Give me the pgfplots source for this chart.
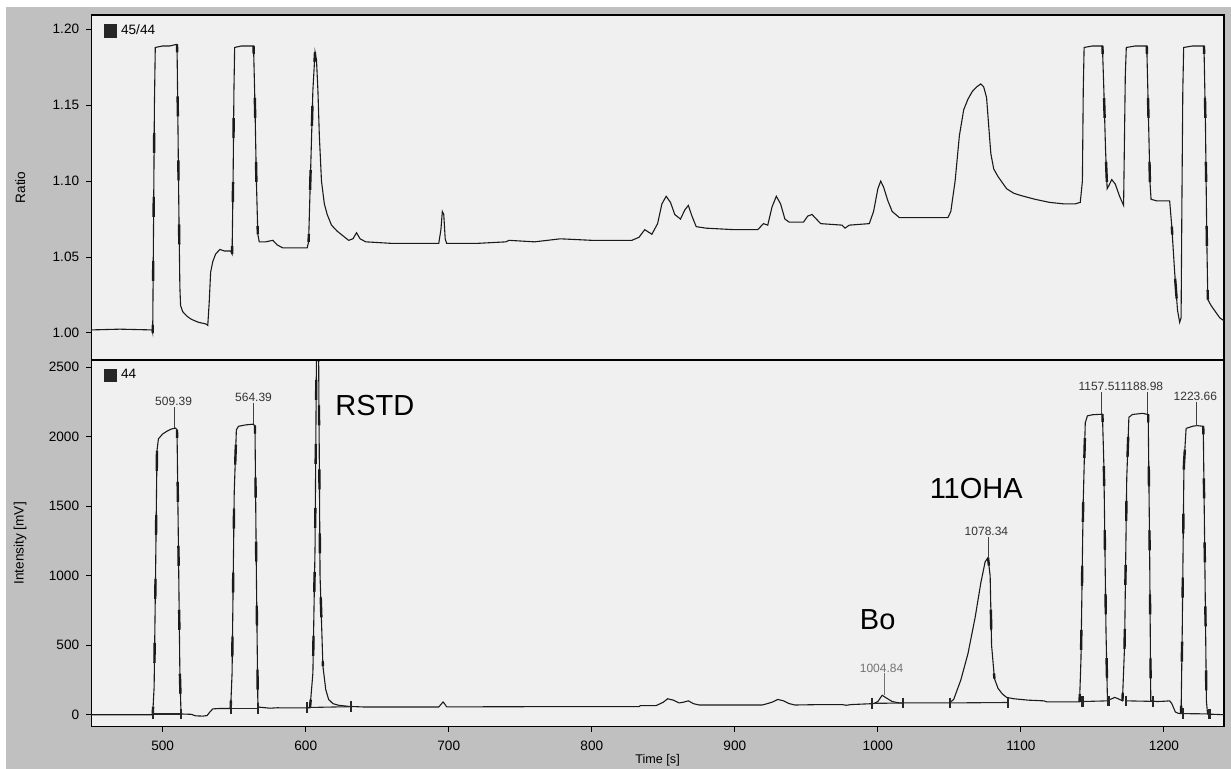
\documentclass[border=0pt]{standalone}
\usepackage{pgfplots}
\pgfplotsset{compat=1.18}
\usepackage{fontspec}
\setmainfont{Liberation Sans}
\definecolor{outergray}{HTML}{C0C0C0}
\definecolor{plotbg}{HTML}{F0F0F0}
\definecolor{trace}{HTML}{1A1A1A}

\tikzset{
  pk/.style={font=\fontsize{6}{7}\selectfont, text=black!80, inner sep=0pt},
  big/.style={anchor=west, inner sep=0pt, font=\fontsize{14.5}{16}\selectfont},
}
\pgfplotsset{
  chrom/.style={
    scale only axis, width=566.4pt, xmin=450, xmax=1242,
    axis background/.style={fill=plotbg},
    axis line style={black, line width=0.6pt},
    tick align=outside, ytick pos=left, xtick pos=bottom,
    major tick length=2.5pt, tick style={black, line width=0.5pt},
    /pgf/number format/assume math mode=true,
    ticklabel style={font=\fontsize{6.8}{8}\selectfont},
    every axis y label/.style={at={(rel axis cs:0,0.5)}, xshift=-35.5pt, rotate=90, anchor=center,
      font=\fontsize{6.8}{8}\selectfont},
    legend style={at={(rel axis cs:0,1)}, anchor=north west, xshift=6pt, yshift=-2.5pt,
      draw=none, fill=none, inner sep=0pt, font=\fontsize{6.8}{8}\selectfont},
    legend image code/.code={\fill[black!85] (0pt,-3.1pt) rectangle (6.2pt,3.1pt);},
  },
  trc/.style={trace, line width=0.55pt},
  edge/.style={trace, line width=1.2pt, dash pattern=on 10pt off 22pt, dash phase=6pt},
  bl/.style={black!85, line width=0.55pt, mark=|, mark size=2.6pt, mark options={line width=1.1pt}},
}

\begin{document}
\begin{tikzpicture}
\path[use as bounding box] (0,0) rectangle (615.5pt,384.5pt);
\fill[white] (0,0) rectangle (615.5pt,384.5pt);
\fill[outergray] (3pt,0) rectangle (615.5pt,381pt);

% top panel: ratio 45/44
\begin{axis}[chrom, name=top, at={(45.6pt,204.5pt)}, anchor=south west, height=172.5pt,
  ymin=0.9822, ymax=1.2094, ytick={1.00,1.05,1.10,1.15,1.20}, xtick=\empty,
  yticklabel style={/pgf/number format/.cd, fixed, fixed zerofill, precision=2},
  ylabel={Ratio}]
\addplot[trc] coordinates {
(450,1.002)(470,1.0025)(492.5,1.002)(493,1.0)(493.5,1.06)(494.2,1.15)(494.8,1.188)(500,1.189)(505,1.189)
(509.5,1.190)(510,1.19)(510.5,1.15)(511.3,1.08)(512,1.03)(512.5,1.018)(514,1.014)(517,1.011)(520,1.009)
(525,1.007)(530,1.006)(531.5,1.005)(532.5,1.02)(533.5,1.04)(535,1.047)(537,1.052)(540,1.055)(543,1.054)
(547.5,1.054)(548.5,1.052)(549.2,1.10)(549.8,1.16)(550.3,1.188)(555,1.189)(563.5,1.189)(564.5,1.15)
(565.5,1.10)(566.5,1.065)(567.5,1.06)(572,1.06)(577,1.061)(580,1.058)(584,1.056)(595,1.056)(601,1.056)
(602,1.06)(603.5,1.11)(605,1.16)(606.5,1.185)(607.5,1.18)(608.5,1.16)(609.5,1.13)(611,1.10)(613,1.085)
(615,1.078)(618,1.071)(622,1.067)(626,1.064)(630,1.061)(633,1.062)(635.5,1.066)(638,1.062)(642,1.060)
(660,1.059)(680,1.059)(693,1.059)(694.5,1.068)(695.5,1.080)(696.5,1.078)(697.5,1.062)(698.5,1.059)
(720,1.059)(740,1.060)(742,1.061)(760,1.060)(778,1.062)(800,1.061)(828,1.061)(833,1.063)(837,1.068)
(842,1.065)(846,1.072)(849,1.085)(852,1.090)(855,1.086)(858,1.078)(862,1.075)(865,1.081)(867.5,1.084)
(870,1.077)(873,1.070)(880,1.069)(900,1.068)(916,1.068)(920,1.072)(923,1.071)(926,1.083)(929,1.090)
(932,1.085)(935,1.075)(938,1.073)(948,1.073)(951,1.077)(954,1.078)(957,1.075)(960,1.072)(975,1.071)
(977,1.069)(980,1.071)(994,1.072)(997,1.080)(1000,1.095)(1002,1.100)(1004,1.096)(1007,1.087)(1010,1.080)
(1015,1.076)(1030,1.076)(1049,1.076)(1051,1.080)(1054,1.10)(1057,1.130)(1060,1.147)(1063,1.154)
(1066,1.159)(1069,1.162)(1072,1.164)(1074,1.162)(1076,1.155)(1078,1.130)(1079,1.118)(1081,1.108)
(1084,1.103)(1087,1.099)(1090,1.095)(1095,1.092)(1100,1.0905)(1110,1.088)(1120,1.086)(1130,1.085)
(1138,1.085)(1141.5,1.086)(1143,1.10)(1143.6,1.16)(1144.2,1.188)(1150,1.189)(1157,1.189)(1158,1.16)
(1159.2,1.12)(1160.3,1.095)(1161.5,1.097)(1163.5,1.101)(1166,1.098)(1169,1.090)(1171.8,1.084)
(1172.3,1.12)(1173,1.17)(1173.7,1.188)(1180,1.189)(1188,1.189)(1189,1.15)(1190.2,1.10)(1191,1.088)
(1195,1.087)(1204,1.087)(1205.5,1.07)(1207.5,1.04)(1209.5,1.015)(1211,1.007)(1212,1.01)(1212.6,1.09)
(1213.2,1.16)(1213.8,1.188)(1220,1.189)(1228,1.189)(1229,1.14)(1230,1.06)(1230.7,1.022)(1233,1.018)
(1236,1.014)(1239,1.010)(1242,1.008)};
\addlegendentry{45/44}
% heavier strokes along the steep edges
\addplot[edge, forget plot] coordinates {(493,1.0)(493.5,1.06)(494.2,1.15)};
\addplot[edge, forget plot] coordinates {(510,1.19)(510.5,1.15)(511.3,1.08)(512,1.03)};
\addplot[edge, forget plot] coordinates {(548.5,1.052)(549.2,1.10)(549.8,1.16)};
\addplot[edge, forget plot] coordinates {(563.5,1.189)(564.5,1.15)(565.5,1.10)(566.5,1.065)};
\addplot[edge, forget plot] coordinates {(602,1.06)(603.5,1.11)(605,1.16)(606.5,1.185)};
\addplot[edge, forget plot] coordinates {(1157,1.189)(1158,1.16)(1159.2,1.12)(1160.3,1.095)};
\addplot[edge, forget plot] coordinates {(1188,1.189)(1189,1.15)(1190.2,1.10)(1191,1.088)};
\addplot[edge, forget plot] coordinates {(1205.5,1.07)(1207.5,1.04)(1209.5,1.015)};
\addplot[edge, forget plot] coordinates {(1228,1.189)(1229,1.14)(1230,1.06)(1230.7,1.022)};
\draw[black, line width=1.2pt] (rel axis cs:0,1) -- (rel axis cs:1,1);
\end{axis}

% bottom panel: intensity 44
\begin{axis}[chrom, name=bot, at={(45.6pt,21.15pt)}, anchor=south west, height=183.35pt,
  ymin=-86, ymax=2552, ytick={0,500,1000,1500,2000,2500},
  yticklabel style={/pgf/number format/1000 sep={}},
  xtick={500,600,...,1200}, xticklabel style={/pgf/number format/1000 sep={}, yshift=-1pt},
  ylabel={Intensity [mV]}, xlabel={Time [s]},
  every axis x label/.style={at={(rel axis cs:0.5,0)}, yshift=-17pt, anchor=center,
    font=\fontsize{6.3}{8}\selectfont}]
\addplot[trc] coordinates {
(450,0)(490,0)(493,0)(494,200)(495,1000)(496,1900)(497,1985)(500,2020)(503,2040)(506,2055)(509,2062)
(510,2050)(511,1200)(512,300)(512.8,10)(514,5)(520,3)(523,-8)(528,-10)(531,-6)(533,20)(535,42)(540,45)
(547.5,45)(548.5,300)(550,1600)(551.5,2050)(553,2075)(558,2085)(563,2090)(564.5,2080)(565.5,1000)
(566.5,100)(567,55)(570,52)(575,47)(580,50)(590,49)(603,50)(605,300)(606.5,1200)(607.5,2600)(608.3,3000)
(609,2600)(610,1000)(612,350)(614,180)(616,110)(619,80)(623,68)(630,60)(640,56)(660,56)(693,56)(695,80)
(696,92)(697,80)(698.5,57)(720,57)(760,58)(800,58)(833,58)(834,66)(845,66)(850,90)(853,115)(857,105)
(861,85)(864,90)(867.5,100)(871,80)(875,70)(900,70)(919,70)(921,75)(926,90)(930,110)(934,100)(938,80)
(942,70)(960,73)(975,73)(978,68)(981,73)(997,80)(1000,95)(1003,140)(1006,120)(1010,95)(1015,85)
(1030,85)(1050,85)(1053,110)(1058,250)(1063,440)(1068,700)(1072,950)(1075,1100)(1077,1130)(1078.5,1000)
(1079.5,500)(1081.5,260)(1084,190)(1087,150)(1090,125)(1095,115)(1105,105)(1116,100)(1118,93)(1141,92)
(1142,400)(1143.5,1500)(1145,2100)(1146.5,2150)(1150,2158)(1157,2162)(1158,1800)(1159.5,600)(1160.5,110)
(1163,112)(1165.5,125)(1168,115)(1171,100)(1172.5,500)(1174,1700)(1175.5,2140)(1178,2160)(1185,2168)
(1189,2160)(1190,1200)(1190.8,100)(1195,95)(1200,97)(1204,100)(1205.5,80)(1208,20)(1210,10)(1212,8)
(1212.8,600)(1214,1800)(1215.5,2060)(1220,2075)(1223,2080)(1227.5,2075)(1228.5,1200)(1229.7,100)
(1230.5,5)(1235,3)(1242,0)};
\addlegendentry{44}
% heavier strokes along the steep edges
\addplot[edge, forget plot] coordinates {(493,0)(494,200)(495,1000)(496,1900)};
\addplot[edge, forget plot] coordinates {(510,2050)(511,1200)(512,300)(512.8,10)};
\addplot[edge, forget plot] coordinates {(547.5,45)(548.5,300)(550,1600)(551.5,2050)};
\addplot[edge, forget plot] coordinates {(564.5,2080)(565.5,1000)(566.5,100)};
\addplot[edge, forget plot] coordinates {(603,50)(605,300)(606.5,1200)(607.5,2600)};
\addplot[edge, forget plot] coordinates {(609,2600)(610,1000)(612,350)};
\addplot[edge, forget plot] coordinates {(1141,92)(1142,400)(1143.5,1500)(1145,2100)};
\addplot[edge, forget plot] coordinates {(1157,2162)(1158,1800)(1159.5,600)(1160.5,110)};
\addplot[edge, forget plot] coordinates {(1171,100)(1172.5,500)(1174,1700)(1175.5,2140)};
\addplot[edge, forget plot] coordinates {(1189,2160)(1190,1200)(1190.8,100)};
\addplot[edge, forget plot] coordinates {(1212,8)(1212.8,600)(1214,1800)(1215.5,2060)};
\addplot[edge, forget plot] coordinates {(1227.5,2075)(1228.5,1200)(1229.7,100)};
\addplot[edge, forget plot] coordinates {(1077,1130)(1078.5,1000)(1079.5,500)(1081.5,260)};
% integration baselines
\addplot[bl] coordinates {(493,5)(512.8,5)};
\addplot[bl] coordinates {(548,45)(566.5,45)};
\addplot[bl] coordinates {(601,52)(631.5,58)};
\addplot[bl] coordinates {(995.8,82)(1017.4,84)};
\addplot[bl] coordinates {(1050.6,85)(1090.9,88)};
\addplot[bl] coordinates {(1143,95)(1161.2,100)};
\addplot[bl] coordinates {(1173.4,100)(1192.4,96)};
\addplot[bl] coordinates {(1213.3,8)(1231.9,6)};
% peak label leaders
\addplot[black!75, line width=0.4pt] coordinates {(508.3,2215)(508.3,2062)};
\addplot[black!75, line width=0.4pt] coordinates {(563.3,2245)(563.3,2090)};
\addplot[black!55, line width=0.4pt] coordinates {(1004.4,300)(1004.4,142)};
\addplot[black!75, line width=0.4pt] coordinates {(1077,1280)(1077,1130)};
\addplot[black!75, line width=0.4pt] coordinates {(1156.6,2320)(1156.6,2162)};
\addplot[black!75, line width=0.4pt] coordinates {(1188.1,2320)(1188.1,2165)};
\addplot[black!75, line width=0.4pt] coordinates {(1223,2250)(1223,2080)};
\node[pk] at (axis cs:507.6,2252) {509.39};
\node[pk] at (axis cs:563.5,2283) {564.39};
\node[pk, text=black!55] at (axis cs:1002.6,334) {1004.84};
\node[pk] at (axis cs:1075.9,1317) {1078.34};
\node[pk] at (axis cs:1155.2,2360) {1157.51};
\node[pk] at (axis cs:1184.6,2360) {1188.98};
\node[pk] at (axis cs:1222,2288) {1223.66};
\node[big] at (axis cs:620.5,2228) {RSTD};
\node[big] at (axis cs:1036,1629) {11OHA};
\node[big] at (axis cs:987.2,681) {Bo};
\draw[black, line width=1.2pt] (rel axis cs:0,1) -- (rel axis cs:1,1);
\end{axis}
\end{tikzpicture}
\end{document}
